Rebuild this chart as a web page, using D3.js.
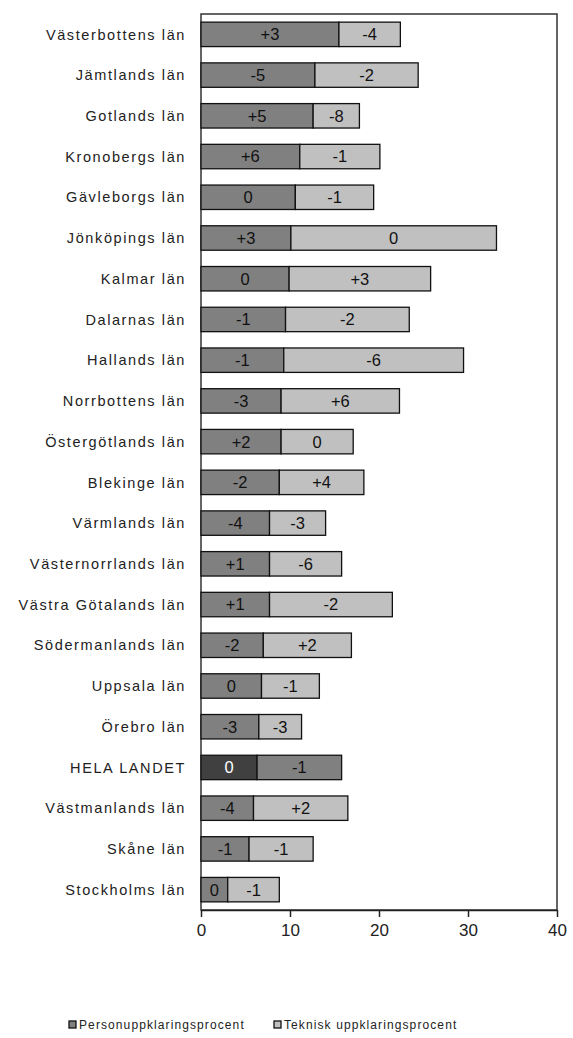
<!DOCTYPE html>
<html>
<head>
<meta charset="utf-8">
<script src="https://cdn.jsdelivr.net/npm/d3@7"></script>
<style>
  body { margin: 0; background: #fff; }
  svg { display: block; font-family: "Liberation Sans", Arial, sans-serif; }
</style>
</head>
<body>
<svg id="chart" width="573" height="1038"></svg>
<script>
// counties, top to bottom
var lan = [
  "Västerbottens län", "Jämtlands län", "Gotlands län", "Kronobergs län",
  "Gävleborgs län", "Jönköpings län", "Kalmar län", "Dalarnas län",
  "Hallands län", "Norrbottens län", "Östergötlands län", "Blekinge län",
  "Värmlands län", "Västernorrlands län", "Västra Götalands län",
  "Södermanlands län", "Uppsala län", "Örebro län", "HELA LANDET",
  "Västmanlands län", "Skåne län", "Stockholms län"
];

// Personuppklaringsprocent (dark segment)
var person = [15.5, 12.8, 12.6, 11.1, 10.6, 10.1, 9.9, 9.5, 9.3, 9.0, 9.0,
  8.8, 7.7, 7.7, 7.7, 7.0, 6.8, 6.5, 6.3, 5.9, 5.4, 3.0];

// Teknisk uppklaringsprocent (light segment, stacked)
var teknisk = [6.9, 11.6, 5.2, 9.0, 8.8, 23.1, 15.9, 13.9, 20.2, 13.3, 8.1,
  9.5, 6.3, 8.1, 13.8, 9.9, 6.5, 4.8, 9.5, 10.6, 7.2, 5.8];

// change labels printed inside the segments
var personChange = ["+3", "-5", "+5", "+6", "0", "+3", "0", "-1", "-1", "-3", "+2",
  "-2", "-4", "+1", "+1", "-2", "0", "-3", "0", "-4", "-1", "0"];
var tekniskChange = ["-4", "-2", "-8", "-1", "-1", "0", "+3", "-2", "-6", "+6", "0",
  "+4", "-3", "-6", "-2", "+2", "-1", "-3", "-1", "+2", "-1", "-1"];

var xTicks = [0, 10, 20, 30, 40];
var seriesNames = ["Personuppklaringsprocent", "Teknisk uppklaringsprocent"];

var svg = d3.select("#chart");
//note: "top" is taken by window.top, so plot edges get their own names
var plotLeft = 201, plotRight = 557, plotTop = 14, plotBottom = 910;
var total = "HELA LANDET";

var x = d3.scaleLinear().domain([0, 40]).range([plotLeft, plotRight]);
var y = d3.scaleBand().domain(lan).range([plotTop, plotBottom])
  .paddingInner(0.4).paddingOuter(0.2);

//colors: normal rows grey/light grey, the national row is darker
function colPerson(d){ return d === total ? "#404040" : "#808080"; }
function colTeknisk(d){ return d === total ? "#808080" : "#c0c0c0"; }

//plot frame
svg.append("rect")
  .attr("x", plotLeft).attr("y", plotTop)
  .attr("width", plotRight - plotLeft).attr("height", plotBottom - plotTop)
  .attr("fill", "none").attr("stroke", "#333").attr("stroke-width", 1.5);

var rows = svg.append("g").selectAll("g")
  .data(lan)
  .enter()
  .append("g");

rows.append("rect")
  .attr("x", x(0))
  .attr("y", function(d){ return y(d); })
  .attr("width", function(d, i){ return x(person[i]) - x(0); })
  .attr("height", y.bandwidth())
  .attr("fill", colPerson)
  .attr("stroke", "#111").attr("stroke-width", 1.3);

rows.append("rect")
  .attr("x", function(d, i){ return x(person[i]); })
  .attr("y", function(d){ return y(d); })
  .attr("width", function(d, i){ return x(person[i] + teknisk[i]) - x(person[i]); })
  .attr("height", y.bandwidth())
  .attr("fill", colTeknisk)
  .attr("stroke", "#111").attr("stroke-width", 1.3);

rows.append("text")
  .attr("x", function(d, i){ return (x(0) + x(person[i])) / 2; })
  .attr("y", function(d){ return y(d) + y.bandwidth() / 2; })
  .attr("dy", "0.36em")
  .attr("text-anchor", "middle")
  .attr("font-size", 16.5)
  .attr("fill", function(d){ return d === total ? "#fff" : "#111"; })
  .text(function(d, i){ return personChange[i]; });

rows.append("text")
  .attr("x", function(d, i){ return (x(person[i]) + x(person[i] + teknisk[i])) / 2; })
  .attr("y", function(d){ return y(d) + y.bandwidth() / 2; })
  .attr("dy", "0.36em")
  .attr("text-anchor", "middle")
  .attr("font-size", 16.5)
  .attr("fill", "#111")
  .text(function(d, i){ return tekniskChange[i]; });

//category labels
svg.append("g").selectAll("text")
  .data(lan)
  .enter()
  .append("text")
  .attr("x", 186)
  .attr("y", function(d){ return y(d) + y.bandwidth() / 2; })
  .attr("dy", "0.36em")
  .attr("text-anchor", "end")
  .attr("font-size", 14.5)
  .attr("letter-spacing", 1.6)
  .attr("fill", "#222")
  .text(function(d){ return d; });

//x axis
var xAxis = d3.axisBottom(x).tickValues(xTicks).tickSize(7).tickSizeOuter(0)
  .tickFormat(d3.format("d"));
var gx = svg.append("g")
  .attr("transform", "translate(0," + plotBottom + ")")
  .call(xAxis);
gx.select(".domain").attr("stroke", "#222").attr("stroke-width", 1.5);
gx.selectAll(".tick line").attr("stroke", "#222").attr("stroke-width", 1.5);
gx.selectAll(".tick text")
  .attr("y", 14)
  .attr("font-size", 17)
  .attr("font-family", "Liberation Sans, Arial, sans-serif")
  .attr("fill", "#222");

//legend
var legendX = [69, 274];
var legend = svg.append("g").selectAll("g")
  .data(seriesNames)
  .enter()
  .append("g")
  .attr("transform", function(d, i){ return "translate(" + legendX[i] + ",1025)"; });

legend.append("rect")
  .attr("x", 0).attr("y", -4)
  .attr("width", 7).attr("height", 7)
  .attr("fill", function(d, i){ return i === 0 ? "#808080" : "#c0c0c0"; })
  .attr("stroke", "#111").attr("stroke-width", 1.3);

legend.append("text")
  .attr("x", 10)
  .attr("y", 0)
  .attr("dy", "0.36em")
  .attr("font-size", 12)
  .attr("letter-spacing", 1.1)
  .attr("fill", "#222")
  .text(function(d){ return d; });
</script>
</body>
</html>
